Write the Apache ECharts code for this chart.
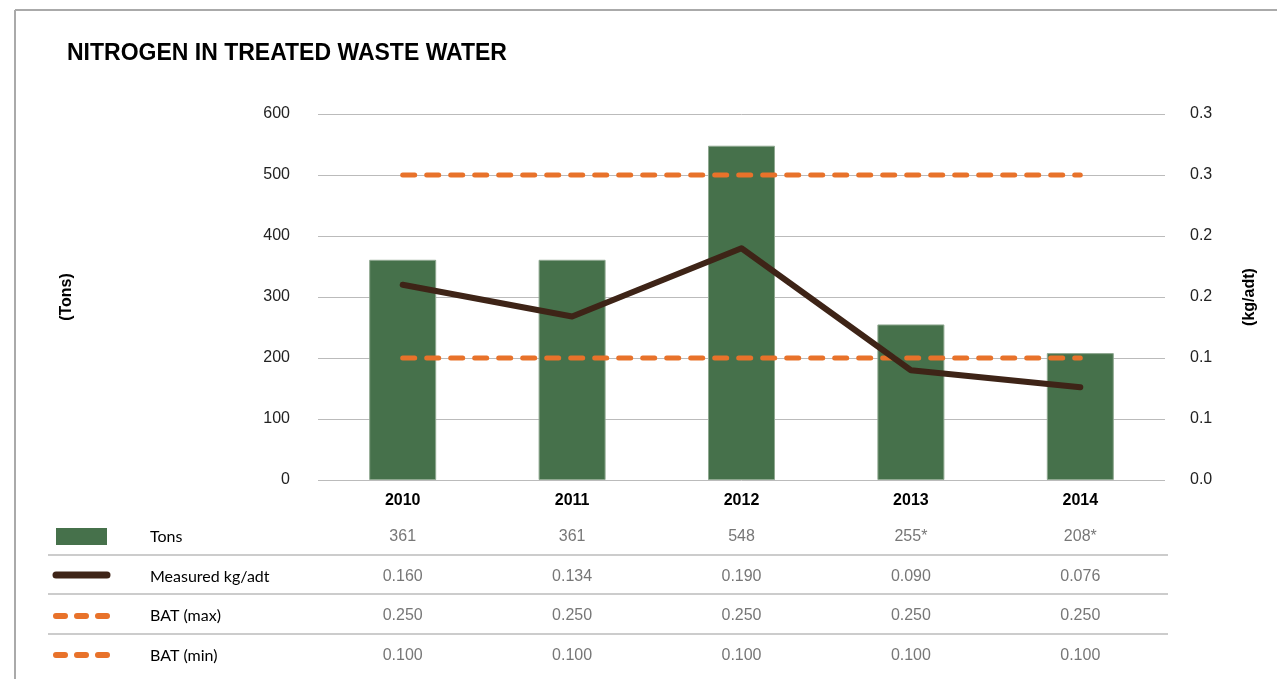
<!DOCTYPE html>
<html>
<head>
<meta charset="utf-8">
<script src="https://cdn.jsdelivr.net/npm/echarts@6/dist/echarts.min.js"></script>
<style>
  html, body { margin: 0; padding: 0; background: #fff; }
  #main { width: 1277px; height: 679px; }
</style>
</head>
<body>
<div id="main"></div>
<script>
// data
const years = ['2010', '2011', '2012', '2013', '2014'];
const tons = [361, 361, 548, 255, 208];
const tonsText = ['361', '361', '548', '255*', '208*'];
const measured = [0.160, 0.134, 0.190, 0.090, 0.076];
const batMax = [0.250, 0.250, 0.250, 0.250, 0.250];
const batMin = [0.100, 0.100, 0.100, 0.100, 0.100];
const rightTicks = ['0.0', '0.1', '0.1', '0.2', '0.2', '0.3', '0.3'];

const green = '#46714b';
const brown = '#3e2417';
const orange = '#e8722a';

let myChart = echarts.init(document.getElementById('main'));

myChart.setOption({
  animation: false,
  backgroundColor: '#fff',
  title: {
    text: 'NITROGEN IN TREATED WASTE WATER',
    left: 62,
    top: 37,
    textStyle: { fontFamily: 'Liberation Sans', fontWeight: 'bold', fontSize: 23, color: '#000' }
  },
  grid: { left: 318, right: 112, top: 114, bottom: 199, containLabel: false },
  xAxis: {
    type: 'category',
    data: years,
    axisLine: { show: false },
    axisTick: { show: false },
    axisLabel: { margin: 13, fontFamily: 'Liberation Sans', fontWeight: 'bold', fontSize: 16, color: '#000' }
  },
  yAxis: [
    {
      type: 'value',
      min: 0, max: 600, interval: 100,
      name: '(Tons)',
      nameLocation: 'middle',
      nameRotate: 90,
      nameGap: 243,
      nameTextStyle: { fontFamily: 'Liberation Sans', fontWeight: 'bold', fontSize: 16, color: '#000' },
      axisLine: { show: false },
      axisTick: { show: false },
      axisLabel: { margin: 28, fontFamily: 'Liberation Sans', fontSize: 16, color: '#222' },
      splitLine: { lineStyle: { color: '#bbbbbb', width: 1 } }
    },
    {
      type: 'value',
      min: 0, max: 0.3, interval: 0.05,
      name: '(kg/adt)',
      nameLocation: 'middle',
      nameRotate: 90,
      nameGap: 77,
      nameTextStyle: { fontFamily: 'Liberation Sans', fontWeight: 'bold', fontSize: 16, color: '#000' },
      axisLine: { show: false },
      axisTick: { show: false },
      axisLabel: {
        margin: 25, fontFamily: 'Liberation Sans', fontSize: 16, color: '#222',
        formatter: function (v, i) { return rightTicks[i]; }
      },
      splitLine: { show: false }
    }
  ],
  series: [
    {
      name: 'Tons',
      type: 'bar',
      data: tons,
      barWidth: 67,
      itemStyle: { color: green, borderColor: '#8fa890', borderWidth: 1 },
      z: 2
    },
    {
      name: 'BAT (max)',
      type: 'line',
      yAxisIndex: 1,
      data: batMax,
      symbol: 'none',
      lineStyle: { color: orange, width: 5, type: [12, 12], cap: 'round' },
      z: 3
    },
    {
      name: 'BAT (min)',
      type: 'line',
      yAxisIndex: 1,
      data: batMin,
      symbol: 'none',
      lineStyle: { color: orange, width: 5, type: [12, 12], cap: 'round' },
      z: 3
    },
    {
      name: 'Measured kg/adt',
      type: 'line',
      yAxisIndex: 1,
      data: measured,
      symbol: 'none',
      lineStyle: { color: brown, width: 6, cap: 'round', join: 'round' },
      z: 4
    }
  ]
});

// data table under the chart
const rows = [
  { name: 'Tons', values: tonsText, y: 537 },
  { name: 'Measured kg/adt', values: measured.map(v => v.toFixed(3)), y: 577 },
  { name: 'BAT (max)', values: batMax.map(v => v.toFixed(3)), y: 616 },
  { name: 'BAT (min)', values: batMin.map(v => v.toFixed(3)), y: 656 }
];
const sepY = [555, 594, 634];

let elements = [];
// frame
elements.push({ type: 'line', shape: { x1: 15, y1: 10, x2: 1277, y2: 10 }, style: { stroke: '#aaaaaa', lineWidth: 2 } });
elements.push({ type: 'line', shape: { x1: 15, y1: 10, x2: 15, y2: 679 }, style: { stroke: '#aaaaaa', lineWidth: 2 } });

sepY.forEach(function (y) {
  elements.push({ type: 'line', shape: { x1: 48, y1: y, x2: 1168, y2: y }, style: { stroke: '#bbbbbb', lineWidth: 1.5 } });
});

rows.forEach(function (r) {
  elements.push({
    type: 'text', x: 150, y: r.y,
    style: { text: r.name, fontFamily: 'Lato', fontSize: 16, fill: '#000', verticalAlign: 'middle' }
  });
  r.values.forEach(function (v, i) {
    let px = myChart.convertToPixel({ xAxisIndex: 0 }, years[i]);
    elements.push({
      type: 'text', x: px, y: r.y,
      style: { text: v, fontFamily: 'Liberation Sans', fontSize: 16, fill: '#777', align: 'center', verticalAlign: 'middle' }
    });
  });
});

// legend keys
elements.push({ type: 'rect', shape: { x: 56, y: 528, width: 51, height: 17 }, style: { fill: green } });
elements.push({ type: 'line', shape: { x1: 56, y1: 575, x2: 107, y2: 575 }, style: { stroke: brown, lineWidth: 7, lineCap: 'round' } });
[616, 655].forEach(function (y) {
  elements.push({ type: 'line', shape: { x1: 56, y1: y, x2: 107, y2: y }, style: { stroke: orange, lineWidth: 6, lineCap: 'round', lineDash: [9, 12] } });
});

myChart.setOption({ graphic: { elements: elements } });
</script>
</body>
</html>
